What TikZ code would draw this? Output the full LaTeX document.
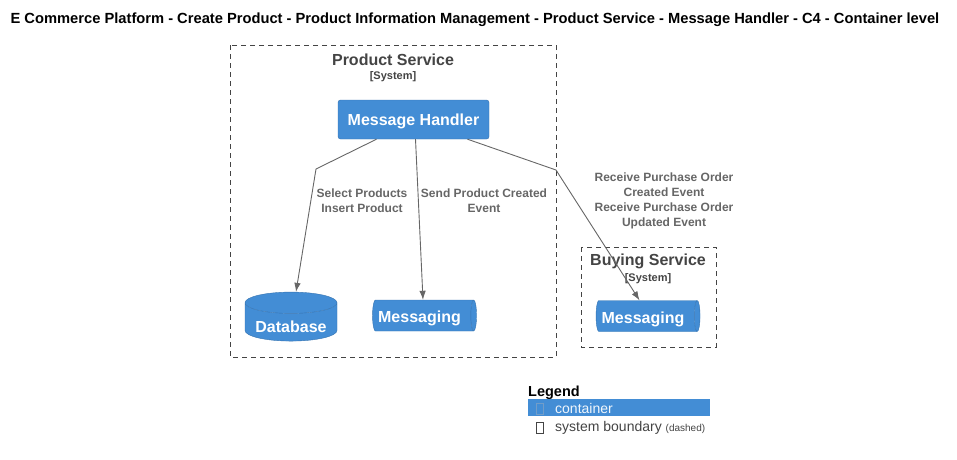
\documentclass[tikz,border=0pt]{standalone}
\usepackage{fontspec}
\setmainfont{Liberation Sans}
\usetikzlibrary{shapes.geometric,arrows.meta}
\definecolor{c4blue}{HTML}{438DD5}
\definecolor{c4edge}{HTML}{3573B0}
\definecolor{bndgray}{HTML}{444444}
\definecolor{relgray}{HTML}{666666}
\newcommand{\fs}[1]{\fontsize{#1}{#1}\selectfont}
\begin{document}
\begin{tikzpicture}[x=1pt,y=-1pt,
	container/.style={fill=c4blue,draw=c4edge,rounded corners=2.5pt,text=white,font=\fs{16}\bfseries,minimum width=151pt,minimum height=39pt,inner sep=0pt,text depth=0pt},
	dbase/.style={cylinder,shape border rotate=90,aspect=.3,draw=c4edge,cylinder uses custom fill,cylinder body fill=c4blue,cylinder end fill=c4blue,text=white,font=\fs{16}\bfseries,minimum width=92pt,minimum height=49pt,inner sep=0pt},
	queue/.style={cylinder,aspect=.5,draw=c4edge,cylinder uses custom fill,cylinder body fill=c4blue,cylinder end fill=c4blue,text=white,font=\fs{16}\bfseries,minimum width=31pt,minimum height=104pt,inner sep=0pt},
	bound/.style={draw=bndgray,dashed,dash pattern=on 5pt off 4pt},
	bndlabel/.style={text=bndgray,font=\fs{16}\bfseries},
	rel/.style={draw=relgray,line width=.9pt,-{Latex[length=9pt,width=6.5pt]}},
	rellabel/.style={text=relgray,font=\fontsize{12}{15}\selectfont\bfseries,align=center}]
		\useasboundingbox (0,0) rectangle (957,459);
		\node (title) at (475,19.5)[font=\fs{14.7}\bfseries]{E Commerce Platform - Create Product - Product Information Management - Product Service - Message Handler - C4 - Container level};

		\draw [bound] (230,45) rectangle (556,357);
		\node (ps) at (393,59.5)[bndlabel]{Product Service};
		\node (pssys) at (393,76.5)[text=bndgray,font=\fs{11}\bfseries]{[System]};

		\node (mh) at (413.5,119.5)[container]{Message Handler};
		\node (db) at (291,322)[dbase]{\raisebox{-10.5pt}[0pt][0pt]{Database}};
		\node (pmq) at (423,315.5)[queue]{\hspace*{-7pt}\raisebox{-1.5pt}[11.5pt][0pt]{Messaging}};

		\draw [bound] (581,247) rectangle (716,347);
		\node (bs) at (648,261.5)[bndlabel]{Buying Service};
		\node (bssys) at (648,278.5)[text=bndgray,font=\fs{11}\bfseries]{[System]};
		\node (bmq) at (646.5,316)[queue]{\hspace*{-7pt}\raisebox{-1.5pt}[11.5pt][0pt]{Messaging}};

		\draw [rel] ([xshift=-37pt]mh.south) -- (316,169) -- ([xshift=5pt]db.north);
		\node (l1) at (362,201)[rellabel]{Select Products\\Insert Product};
		\draw [rel] ([xshift=2pt]mh.south) -- (pmq.north);
		\node (l2) at (484,201)[rellabel]{Send Product Created\\Event};
		\draw [rel] ([xshift=54pt]mh.south) -- (556,170) -- ([xshift=-7pt]bmq.north);
		\node (l3) at (664,201)[rellabel]{Receive Purchase Order\\Created Event\\Receive Purchase Order\\Updated Event};

		\node (leg) at (528,392.5)[anchor=west,inner sep=0pt,font=\fs{14.5}\bfseries]{Legend};
		\draw [fill=c4blue,draw=none] (528,399) rectangle (710,416);
		\draw [draw=c4edge!70!white] (536,403) rectangle (543,414);
		\node (lc) at (555,408)[anchor=west,inner sep=0pt,text=white!92!c4blue,font=\fs{14}]{container};
		\draw [draw=bndgray] (536,422) rectangle (543,433);
		\node (lb) at (555,427.5)[anchor=west,inner sep=0pt,text=bndgray,font=\fs{14}]{system boundary {\fs{10}(dashed)}};
\end{tikzpicture}
\end{document}
